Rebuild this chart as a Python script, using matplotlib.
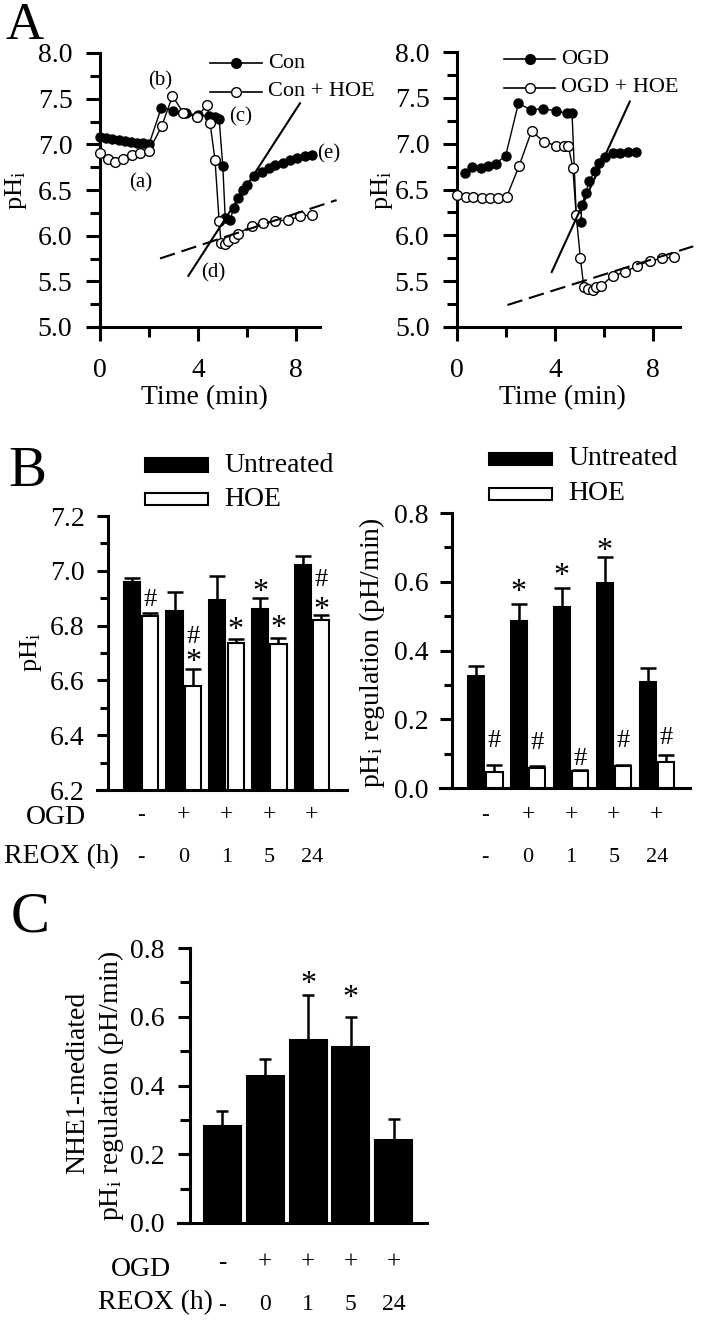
import numpy as np
import matplotlib
matplotlib.use('Agg')
import matplotlib.pyplot as plt
from matplotlib.patches import Rectangle
from matplotlib.lines import Line2D
from matplotlib.transforms import blended_transform_factory

plt.rcParams['font.family'] = ['Liberation Serif', 'DejaVu Serif']
plt.rcParams['mathtext.fontset'] = 'custom'
plt.rcParams['mathtext.rm'] = 'Liberation Serif'
plt.rcParams['mathtext.it'] = 'Liberation Serif:italic'

# ---------------- DATA ----------------
# Panel A, left (control)
con_t = [0, 0.25, 0.5, 0.75, 1.0, 1.25, 1.5, 1.75, 2.0, 2.5, 3.0, 3.5, 4.0, 4.47, 4.7, 4.87,
         5.02, 5.12, 5.32, 5.46, 5.66, 5.84, 6.0, 6.3, 6.62, 6.9, 7.17, 7.48, 7.78, 8.05, 8.39, 8.66]
con_ph = [7.08, 7.07, 7.06, 7.05, 7.04, 7.03, 7.02, 7.01, 7.00, 7.40, 7.37, 7.34, 7.32, 7.31, 7.30, 7.28,
          6.76, 6.19, 6.17, 6.30, 6.41, 6.50, 6.56, 6.65, 6.70, 6.74, 6.77, 6.80, 6.83, 6.85, 6.87, 6.88]
conhoe_t = [0, 0.3, 0.61, 0.95, 1.3, 1.64, 2.0, 2.52, 2.96, 3.41, 3.96, 4.37, 4.5, 4.7, 4.87, 4.95,
            5.09, 5.25, 5.46, 5.66, 6.2, 6.68, 7.17, 7.68, 8.18, 8.66]
conhoe_ph = [6.90, 6.84, 6.81, 6.84, 6.88, 6.91, 6.93, 7.20, 7.53, 7.34, 7.30, 7.43, 7.23, 6.83, 6.16, 5.92,
             5.91, 5.94, 5.97, 6.02, 6.11, 6.14, 6.16, 6.17, 6.21, 6.23]
con_fit_t = [3.61, 8.18]
con_fit_ph = [5.56, 7.45]
conhoe_fit_t = [2.45, 9.68]
conhoe_fit_ph = [5.75, 6.39]
con_marks = ['(a)', '(b)', '(c)', '(d)', '(e)']
con_marks_t = [1.64, 2.45, 5.73, 4.64, 9.36]
con_marks_ph = [6.58, 7.69, 7.30, 5.59, 6.90]

# Panel A, right (OGD)
ogd_t = [0.3, 0.62, 0.96, 1.27, 1.57, 1.98, 2.5, 3.0, 3.49, 4.04, 4.47, 4.69, 4.86, 5.04, 5.09,
         5.24, 5.4, 5.61, 5.79, 6.02, 6.36, 6.66, 6.98, 7.32]
ogd_ph = [6.68, 6.75, 6.73, 6.76, 6.78, 6.87, 7.44, 7.37, 7.38, 7.36, 7.33, 7.33, 6.22, 6.15, 6.33,
          6.46, 6.59, 6.70, 6.79, 6.86, 6.90, 6.90, 6.91, 6.91]
ogdhoe_t = [0, 0.34, 0.66, 1.0, 1.33, 1.67, 2.02, 2.53, 3.04, 3.53, 4.04, 4.38, 4.54, 4.72, 4.86,
            5.03, 5.17, 5.34, 5.54, 5.68, 5.88, 6.36, 6.87, 7.35, 7.87, 8.37, 8.86]
ogdhoe_ph = [6.44, 6.42, 6.42, 6.41, 6.41, 6.41, 6.42, 6.76, 7.14, 7.02, 6.98, 6.97, 6.97, 6.74, 6.22,
             5.75, 5.44, 5.42, 5.40, 5.44, 5.45, 5.56, 5.60, 5.67, 5.72, 5.75, 5.76]
ogd_fit_t = [3.86, 7.05]
ogd_fit_ph = [5.60, 7.46]
ogdhoe_fit_t = [2.05, 9.64]
ogdhoe_fit_ph = [5.24, 5.88]

# Panel B / C categories
ogd_labels = ['-', '+', '+', '+', '+']
reox_labels = ['-', '0', '1', '5', '24']

# Panel B, left: resting pHi
phi_untreated = [6.959, 6.854, 6.895, 6.862, 7.020]
phi_untreated_err = [0.016, 0.067, 0.086, 0.039, 0.033]
phi_hoe = [6.834, 6.579, 6.737, 6.732, 6.822]
phi_hoe_err = [0.012, 0.063, 0.013, 0.021, 0.016]
phi_sig_group = [0, 1, 1, 2, 3, 3, 4, 4]
phi_sig_series = ['hoe', 'hoe', 'hoe', 'hoe', 'unt', 'hoe', 'hoe', 'hoe']
phi_sig_sym = ['#', '#', '*', '*', '*', '*', '#', '*']
phi_sig_y = [6.905, 6.771, 6.698, 6.814, 6.953, 6.822, 6.978, 6.887]

# Panel B, right: pHi regulation rate
reg_untreated = [0.325, 0.487, 0.527, 0.597, 0.307]
reg_untreated_err = [0.029, 0.049, 0.054, 0.074, 0.042]
reg_hoe = [0.046, 0.058, 0.050, 0.065, 0.076]
reg_hoe_err = [0.022, 0.005, 0.003, 0.001, 0.020]
reg_sig_group = [1, 2, 3, 0, 1, 2, 3, 4]
reg_sig_series = ['unt', 'unt', 'unt', 'hoe', 'hoe', 'hoe', 'hoe', 'hoe']
reg_sig_sym = ['*', '*', '*', '#', '#', '#', '#', '#']
reg_sig_y = [0.592, 0.640, 0.713, 0.145, 0.141, 0.092, 0.145, 0.155]

# Panel C: NHE1-mediated regulation
nhe1 = [0.283, 0.429, 0.533, 0.512, 0.242]
nhe1_err = [0.043, 0.048, 0.131, 0.087, 0.061]
nhe1_sig_group = [2, 3]
nhe1_sig_y = [0.718, 0.679]

# ---------------- FIGURE ----------------
W, H = 702, 1331
fig = plt.figure(figsize=(W / 100, H / 100), dpi=100)
LW = 2.2
TICKFS = 20


def add_ax(l, r, t, b):
    return fig.add_axes([l / W, 1 - b / H, (r - l) / W, (b - t) / H])


def style(ax, spine_x):
    for s in ['top', 'right']:
        ax.spines[s].set_visible(False)
    ax.spines['left'].set_position(('data', spine_x))
    for s in ['left', 'bottom']:
        ax.spines[s].set_linewidth(LW)
        ax.spines[s].set_capstyle('projecting')
    ax.patch.set_alpha(0)


def ftext(x, y, s, **kw):
    fig.text(x / W, 1 - y / H, s, **kw)


def sym_annot(ax, x, y, sym):
    fs = 23 if sym == '*' else 19
    k = 0.50 if sym == '*' else 0.34
    ax.annotate(sym, (x, y), xytext=(0, -k * fs), textcoords='offset points',
                ha='center', va='baseline', fontsize=fs, annotation_clip=False)


# ----- Panel A -----
def panel_a(ax, xmax, s1, s2, fit1, fit2):
    style(ax, 0)
    ax.set_xlim(-0.5, xmax)
    ax.set_ylim(5.0, 8.0)
    ax.set_yticks(np.arange(5.0, 8.01, 0.5))
    ax.set_yticklabels([f'{v:.1f}' for v in np.arange(5.0, 8.01, 0.5)])
    ax.set_yticks(np.arange(5.25, 8.0, 0.5), minor=True)
    ax.set_xticks([0, 4, 8])
    ax.set_xticks([2, 6], minor=True)
    ax.tick_params(axis='both', which='major', length=10, width=LW, labelsize=TICKFS)
    ax.tick_params(axis='both', which='minor', length=7, width=LW)
    ax.tick_params(axis='y', pad=10)
    ax.tick_params(axis='x', pad=12)
    (t1, p1), (t2, p2) = s1, s2
    ax.plot(t1, p1, '-o', color='k', lw=1.0, ms=6.5, mfc='k', mec='k', zorder=3, clip_on=False)
    ax.plot(t2, p2, '-o', color='k', lw=1.0, ms=7, mfc='white', mec='k', mew=1.0, zorder=4, clip_on=False)
    ax.plot(fit1[0], fit1[1], '-', color='k', lw=1.5, zorder=5, clip_on=False)
    ax.plot(fit2[0], fit2[1], color='k', lw=1.5, dashes=(7.5, 3.3), zorder=5, clip_on=False)
    ax.set_xlabel('Time (min)', fontsize=TICKFS, labelpad=2)


axA1 = add_ax(88, 320, 53, 327)
panel_a(axA1, 9.0, (con_t, con_ph), (conhoe_t, conhoe_ph),
        (con_fit_t, con_fit_ph), (conhoe_fit_t, conhoe_fit_ph))
for s, tx, py in zip(con_marks, con_marks_t, con_marks_ph):
    axA1.text(tx, py, s, fontsize=15, ha='center', va='center', clip_on=False)

axA2 = add_ax(445, 680, 52, 327)
panel_a(axA2, 9.1, (ogd_t, ogd_ph), (ogdhoe_t, ogdhoe_ph),
        (ogd_fit_t, ogd_fit_ph), (ogdhoe_fit_t, ogdhoe_fit_ph))

ftext(16, 190, 'pH$_\\mathrm{i}$', fontsize=19, rotation=90, ha='center', va='center')
ftext(382, 190, 'pH$_\\mathrm{i}$', fontsize=19, rotation=90, ha='center', va='center')


def line_legend(x1, x2, y, label, fc):
    fig.add_artist(Line2D([x1 / W, x2 / W], [1 - y / H, 1 - y / H], transform=fig.transFigure,
                          color='k', lw=1.2))
    fig.add_artist(Line2D([(x1 + x2) / 2 / W], [1 - y / H], transform=fig.transFigure,
                          marker='o', ms=7, mfc=fc, mec='k', mew=1.0, lw=0))
    ftext(x2 + 6, y, label, fontsize=16, ha='left', va='center')


line_legend(210, 262, 63, 'Con', 'k')
line_legend(210, 262, 92, 'Con + HOE', 'white')
line_legend(504, 555, 59, 'OGD', 'k')
line_legend(504, 555, 88, 'OGD + HOE', 'white')


# ----- Bar helpers -----
def cond_labels(ax, ogd_y, reox_y, fs=16):
    tr = blended_transform_factory(ax.transData, fig.transFigure)
    for i, (o, r) in enumerate(zip(ogd_labels, reox_labels)):
        ax.text(i, 1 - ogd_y / H, o, transform=tr, fontsize=fs + 1, ha='center', va='center')
        ax.text(i, 1 - reox_y / H, r, transform=tr, fontsize=fs, ha='center', va='center')


def box_legend(x1, x2, y1, y2, y3, y4, tx):
    fig.add_artist(Rectangle((x1 / W, 1 - y2 / H), (x2 - x1) / W, (y2 - y1) / H,
                             transform=fig.transFigure, fc='k', ec='k', lw=1.5))
    fig.add_artist(Rectangle((x1 / W, 1 - y4 / H), (x2 - x1) / W, (y4 - y3) / H,
                             transform=fig.transFigure, fc='white', ec='k', lw=1.5))
    ftext(tx, (y1 + y2) / 2, 'Untreated', fontsize=20, ha='left', va='center')
    ftext(tx, (y3 + y4) / 2, 'HOE', fontsize=20, ha='left', va='center')


def grouped(ax, unt, unt_err, hoe, hoe_err):
    x = np.arange(len(unt))
    off, bw = 0.215, 0.38
    ax.bar(x - off, unt, bw, color='k', edgecolor='k', lw=1.5, zorder=2)
    ax.bar(x + off, hoe, bw, color='white', edgecolor='k', lw=1.5, zorder=2)
    z = np.zeros(len(unt))
    ax.errorbar(x - off, unt, yerr=[z, unt_err], fmt='none', ecolor='k', elinewidth=1.8,
                capsize=5.5, capthick=1.8, zorder=1)
    ax.errorbar(x + off, hoe, yerr=[z, hoe_err], fmt='none', ecolor='k', elinewidth=1.8,
                capsize=5.5, capthick=1.8, zorder=1)
    ax.set_xticks([])
    return off


# ----- Panel B left -----
axB1 = add_ax(97, 347, 516, 790)
style(axB1, -0.77)
axB1.set_xlim(-1.03, 4.82)
axB1.set_ylim(6.2, 7.2)
ticks = np.arange(6.2, 7.201, 0.2)
axB1.set_yticks(ticks)
axB1.set_yticklabels([f'{v:.1f}' for v in ticks])
axB1.set_yticks(np.arange(6.3, 7.2, 0.2), minor=True)
axB1.tick_params(axis='y', which='major', length=8, width=LW, labelsize=TICKFS, pad=9)
axB1.tick_params(axis='y', which='minor', length=6, width=LW)
off = grouped(axB1, phi_untreated, phi_untreated_err, phi_hoe, phi_hoe_err)
for g, s, sym, yv in zip(phi_sig_group, phi_sig_series, phi_sig_sym, phi_sig_y):
    sym_annot(axB1, g + (off if s == 'hoe' else -off), yv, sym)
cond_labels(axB1, 815, 857)
ftext(86, 817, 'OGD', fontsize=20, ha='right', va='center')
ftext(119, 857, 'REOX (h)', fontsize=20, ha='right', va='center')
ftext(31, 652, 'pH$_\\mathrm{i}$', fontsize=19, rotation=90, ha='center', va='center')
box_legend(145, 208, 458, 472, 493, 505, 224)

# ----- Panel B right -----
axB2 = add_ax(440, 690, 513, 788)
style(axB2, -0.77)
axB2.set_xlim(-1.05, 4.77)
axB2.set_ylim(0, 0.8)
ticks = np.arange(0, 0.801, 0.2)
axB2.set_yticks(ticks)
axB2.set_yticklabels([f'{v:.1f}' for v in ticks])
axB2.set_yticks(np.arange(0.1, 0.8, 0.2), minor=True)
axB2.tick_params(axis='y', which='major', length=9, width=LW, labelsize=TICKFS, pad=8)
axB2.tick_params(axis='y', which='minor', length=6, width=LW)
off = grouped(axB2, reg_untreated, reg_untreated_err, reg_hoe, reg_hoe_err)
for g, s, sym, yv in zip(reg_sig_group, reg_sig_series, reg_sig_sym, reg_sig_y):
    sym_annot(axB2, g + (off if s == 'hoe' else -off), yv, sym)
cond_labels(axB2, 815, 857)
ftext(372, 653, 'pH$_\\mathrm{i}$ regulation (pH/min)', fontsize=20, rotation=90,
      ha='center', va='center')
box_legend(489, 552, 453, 465, 488, 500, 568)

# ----- Panel C -----
axC = add_ax(178, 427, 948, 1223)
style(axC, -0.76)
axC.set_xlim(-1.04, 4.78)
axC.set_ylim(0, 0.8)
ticks = np.arange(0, 0.801, 0.2)
axC.set_yticks(ticks)
axC.set_yticklabels([f'{v:.1f}' for v in ticks])
axC.set_yticks(np.arange(0.1, 0.8, 0.2), minor=True)
axC.tick_params(axis='y', which='major', length=9, width=LW, labelsize=TICKFS, pad=9)
axC.tick_params(axis='y', which='minor', length=7, width=LW)
xc = np.arange(len(nhe1))
axC.bar(xc, nhe1, 0.865, color='k', edgecolor='k', lw=1.5, zorder=2)
axC.errorbar(xc, nhe1, yerr=[np.zeros(len(nhe1)), nhe1_err], fmt='none', ecolor='k',
             elinewidth=1.8, capsize=4, capthick=1.8, zorder=1)
axC.set_xticks([])
for g, yv in zip(nhe1_sig_group, nhe1_sig_y):
    sym_annot(axC, g, yv, '*')
cond_labels(axC, 1263, 1305, fs=17)
ftext(171, 1270, 'OGD', fontsize=20, ha='right', va='center')
ftext(213, 1303, 'REOX (h)', fontsize=20, ha='right', va='center')
ftext(78, 1083, 'NHE1-mediated', fontsize=20, rotation=90, ha='center', va='center')
ftext(111, 1086, 'pH$_\\mathrm{i}$ regulation (pH/min)', fontsize=20, rotation=90,
      ha='center', va='center')

# Panel letters
ftext(25, 26, 'A', fontsize=38, ha='center', va='center')
ftext(27, 472, 'B', fontsize=41, ha='center', va='center')
ftext(30, 917, 'C', fontsize=42, ha='center', va='center')

fig.savefig('out.png', dpi=100)
